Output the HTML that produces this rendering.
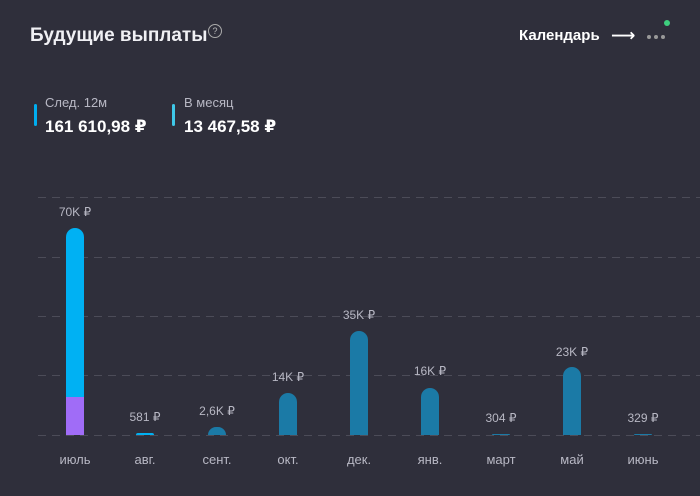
<!DOCTYPE html><html><head><meta charset="utf-8"><style>
body{margin:0;width:700px;height:496px;background:#2f2f3b;font-family:"Liberation Sans","DejaVu Sans",sans-serif;color:#fff;position:relative;overflow:hidden}
.a{position:absolute;white-space:nowrap}
.g{position:absolute;left:38px;width:662px;height:1px;background:repeating-linear-gradient(90deg,#4c4c58 0 8px,transparent 8px 14px)}
.bar{position:absolute;width:18px;border-radius:9px 9px 0 0;background:#1b7aa6}
.v{position:absolute;width:80px;text-align:center;font-size:12px;color:#b8b8c4}
.m{position:absolute;width:80px;text-align:center;font-size:13px;color:#b8b8c4;top:452px}
.d{position:absolute;top:35px;width:4px;height:4px;border-radius:50%;background:#999}
</style></head><body>
<div class="a" style="left:30px;top:25px;font-size:19px;font-weight:bold;color:#f0f0f4">Будущие выплаты</div>
<div class="a" style="left:208px;top:24px;width:12px;height:12px;border:1px solid #aaa;border-radius:50%;font-size:9px;text-align:center;line-height:12px;color:#bbb">?</div>
<div class="a" style="left:519px;top:27px;font-size:15px;font-weight:bold">Календарь</div>
<div class="a" style="left:611px;top:26px;font-size:17px;font-weight:bold">⟶</div>
<div class="d" style="left:647px"></div><div class="d" style="left:654px"></div><div class="d" style="left:661px"></div>
<div class="a" style="left:664px;top:20px;width:6px;height:6px;border-radius:50%;background:#3ecf7e"></div>
<div class="a" style="left:34px;top:104px;width:3px;height:22px;border-radius:2px;background:#00adef"></div>
<div class="a" style="left:45px;top:95px;font-size:13px;color:#b8b8c4">След. 12м</div>
<div class="a" style="left:45px;top:117px;font-size:17px;font-weight:bold">161 610,98 ₽</div>
<div class="a" style="left:172px;top:104px;width:3px;height:22px;border-radius:2px;background:#3fc8e8"></div>
<div class="a" style="left:184px;top:95px;font-size:13px;color:#b8b8c4">В месяц</div>
<div class="a" style="left:184px;top:117px;font-size:17px;font-weight:bold">13 467,58 ₽</div>
<div class="g" style="top:197px"></div><div class="g" style="top:257px"></div><div class="g" style="top:316px"></div><div class="g" style="top:375px"></div><div class="g" style="top:435px"></div>
<div class="bar" style="left:66px;top:228px;height:207px;background:#00b1f3"></div>
<div class="a" style="left:66px;top:397px;width:18px;height:38px;background:#a06cf7"></div>
<div class="bar" style="left:136px;top:433px;height:2px;background:#00b1f3"></div>
<div class="bar" style="left:208px;top:427px;height:8px"></div>
<div class="bar" style="left:279px;top:393px;height:42px"></div>
<div class="bar" style="left:350px;top:331px;height:104px"></div>
<div class="bar" style="left:421px;top:388px;height:47px"></div>
<div class="bar" style="left:492px;top:434px;height:1px"></div>
<div class="bar" style="left:563px;top:367px;height:68px"></div>
<div class="bar" style="left:634px;top:434px;height:1px"></div>
<div class="v" style="left:35px;top:205px">70K ₽</div>
<div class="v" style="left:105px;top:410px">581 ₽</div>
<div class="v" style="left:177px;top:404px">2,6K ₽</div>
<div class="v" style="left:248px;top:370px">14K ₽</div>
<div class="v" style="left:319px;top:308px">35K ₽</div>
<div class="v" style="left:390px;top:364px">16K ₽</div>
<div class="v" style="left:461px;top:411px">304 ₽</div>
<div class="v" style="left:532px;top:345px">23K ₽</div>
<div class="v" style="left:603px;top:411px">329 ₽</div>
<div class="m" style="left:35px">июль</div><div class="m" style="left:105px">авг.</div><div class="m" style="left:177px">сент.</div><div class="m" style="left:248px">окт.</div><div class="m" style="left:319px">дек.</div><div class="m" style="left:390px">янв.</div><div class="m" style="left:461px">март</div><div class="m" style="left:532px">май</div><div class="m" style="left:603px">июнь</div>
</body></html>
